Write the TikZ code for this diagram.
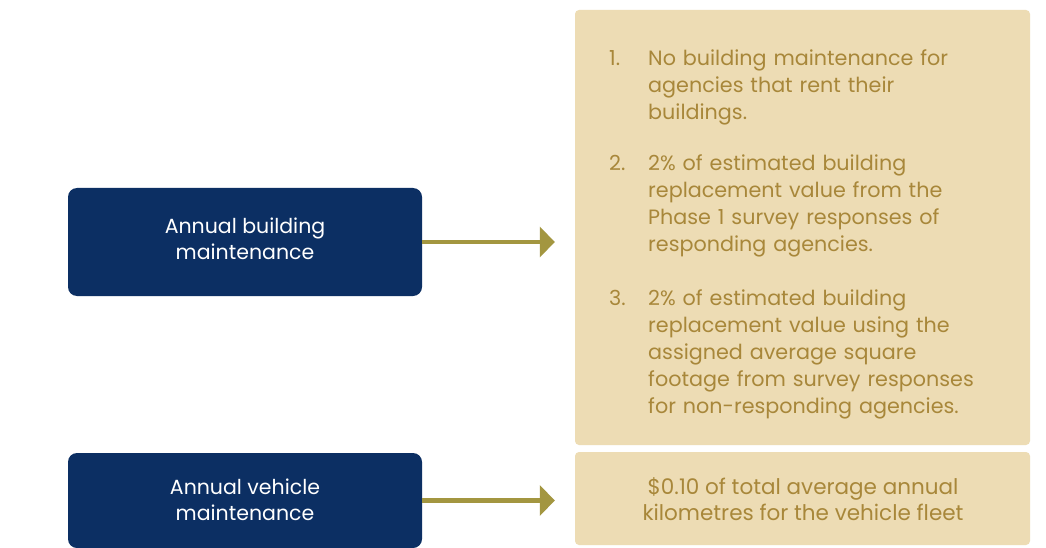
\documentclass[tikz,border=0pt]{standalone}
\usepackage{fontspec}
\setmainfont{Poppins}
\usetikzlibrary{arrows.meta}
\definecolor{navy}{HTML}{0C2F63}
\definecolor{tanbg}{HTML}{EDDCB4}
\definecolor{goldtxt}{HTML}{A8873A}
\definecolor{olivearrow}{HTML}{A39640}
\begin{document}
\begin{tikzpicture}[x=1pt,y=-1pt,
  navybox/.style={fill=navy, rounded corners=9pt, text=white, align=center,
    font=\fontsize{20.5}{26}\selectfont, inner sep=0pt},
  tanbox/.style={fill=tanbg, rounded corners=4pt, inner sep=0pt},
  conn/.style={draw=olivearrow, line width=4.5pt, -{Triangle[length=15pt,width=30pt]}, shorten >=20pt},
  itemtext/.style={text=goldtxt, font=\fontsize{20.7}{27}\selectfont, align=left, inner sep=0pt}
]
\useasboundingbox (0,0) rectangle (1046,548);
\fill[white] (0,0) rectangle (1046,548);
\node[tanbox, minimum width=455pt, minimum height=435pt] (t1) at (802.5,227.5) {};
\node[tanbox, minimum width=455pt, minimum height=93pt] (t2) at (802.5,498.5) {};
\node[navybox, minimum width=354pt, minimum height=108pt] (a) at (245,242) {};
\node[navybox, minimum width=354pt, minimum height=95pt] (b) at (245,500.5) {};
\node[navybox, fill=none] (at) at (245,239) {Annual building\\maintenance};
\node[navybox, fill=none] (bt) at (245,500) {Annual vehicle\\maintenance};
\draw[conn] (a.east) -- (a.east -| t1.west);
\draw[conn] (b.east) -- (b.east -| t2.west);
\node[itemtext, anchor=north west, text width=420pt] (list) at (609,49) {%
\raggedright
\hangindent=39pt\hangafter=1\makebox[39pt][l]{1.}No building maintenance for\newline agencies that rent their\newline buildings.\par\vspace{24pt}
\hangindent=39pt\hangafter=1\makebox[39pt][l]{2.}2\% of estimated building\newline replacement value from the\newline Phase 1 survey responses of\newline responding agencies.\par\vspace{27pt}
\hangindent=39pt\hangafter=1\makebox[39pt][l]{3.}2\% of estimated building\newline replacement value using the\newline assigned average square\newline footage from survey responses\newline for non-responding agencies.\par};
\node[itemtext, align=center, font=\fontsize{21.5}{26}\selectfont] (v) at (803,499) {\$0.10 of total average annual\\kilometres for the vehicle fleet};
\end{tikzpicture}
\end{document}
